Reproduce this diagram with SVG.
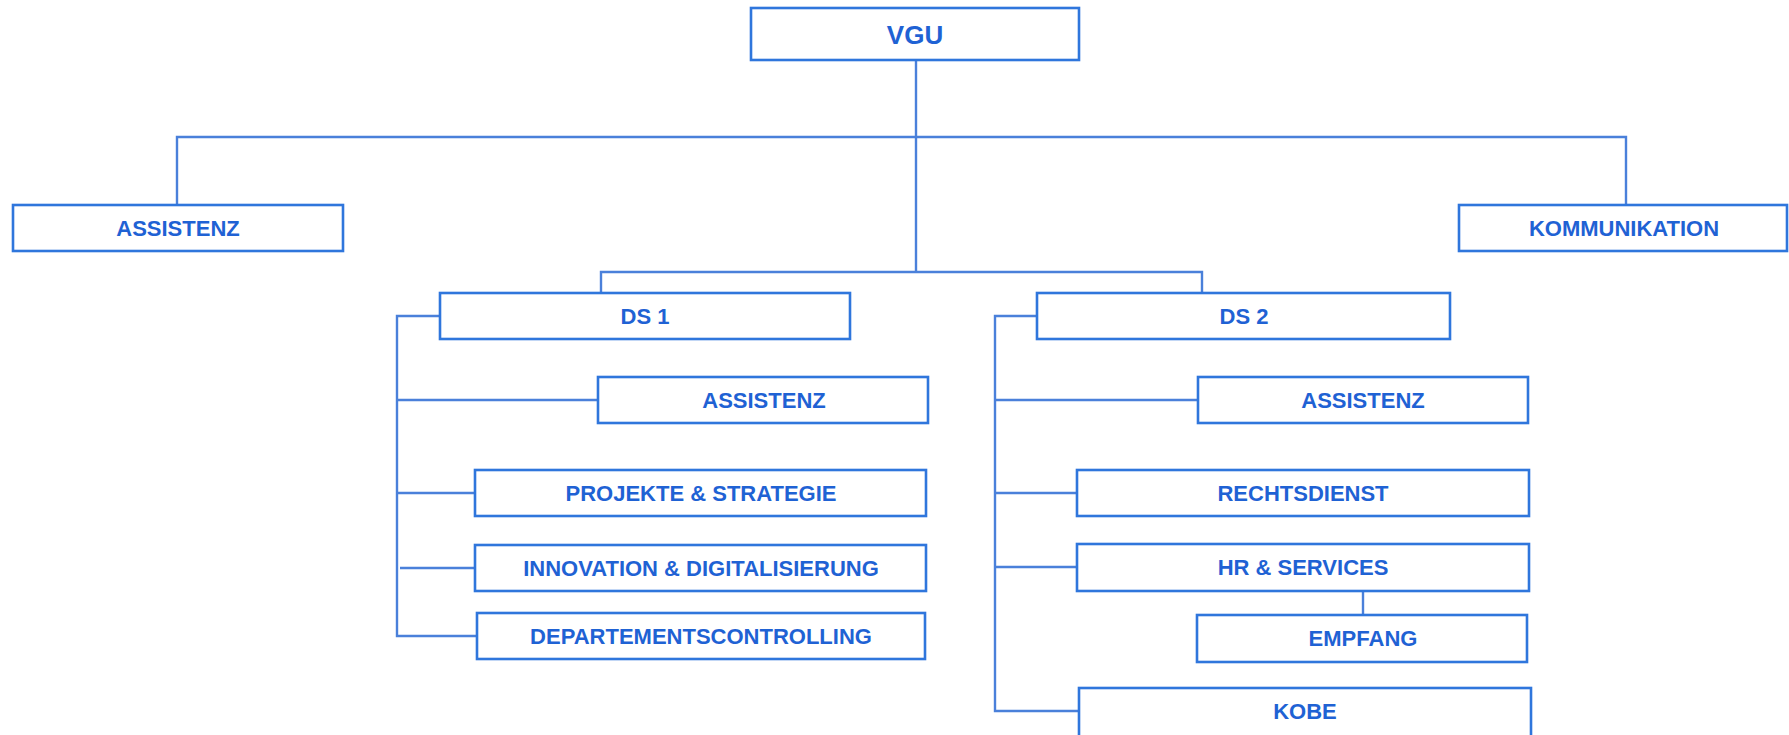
<svg xmlns="http://www.w3.org/2000/svg" width="1789" height="735" viewBox="0 0 1789 735">
<style>
.box{fill:#ffffff;stroke:#2f76dc;stroke-width:2.6}
.lbl{font-family:"Liberation Sans",Arial,sans-serif;font-weight:bold;font-size:22px;fill:#1f62d4;text-anchor:middle}
.big{font-size:26px}
.con{fill:none;stroke:#4a80da;stroke-width:2.4}
</style>
<rect width="1789" height="735" fill="#ffffff"/>
<g id="connectors">
<path class="con" d="M916 60 V272"/>
<path class="con" d="M177 205 V137 H1626 V205"/>
<path class="con" d="M601 293 V272 H1202 V293"/>
<path class="con" d="M440 316 H397 V636 H477"/>
<path class="con" d="M397 400 H598"/>
<path class="con" d="M397 493 H475"/>
<path class="con" d="M400 568 H475"/>
<path class="con" d="M1037 316 H995 V711 H1079"/>
<path class="con" d="M995 400 H1198"/>
<path class="con" d="M995 493 H1077"/>
<path class="con" d="M995 567 H1077"/>
<path class="con" d="M1363 591 V615"/>
</g>
<g id="vgu"><rect class="box" x="751" y="8" width="328" height="52"/><text class="lbl big" x="915" y="44">VGU</text></g>
<g id="assistenz"><rect class="box" x="13" y="205" width="330" height="46"/><text class="lbl" x="178" y="236">ASSISTENZ</text></g>
<g id="kommunikation"><rect class="box" x="1459" y="205" width="328" height="46"/><text class="lbl" x="1624" y="236">KOMMUNIKATION</text></g>
<g id="ds1"><rect class="box" x="440" y="293" width="410" height="46"/><text class="lbl" x="645" y="324">DS 1</text></g>
<g id="ds1-assistenz"><rect class="box" x="598" y="377" width="330" height="46"/><text class="lbl" x="764" y="408">ASSISTENZ</text></g>
<g id="projekte"><rect class="box" x="475" y="470" width="451" height="46"/><text class="lbl" x="701" y="501">PROJEKTE &amp; STRATEGIE</text></g>
<g id="innovation"><rect class="box" x="475" y="545" width="451" height="46"/><text class="lbl" x="701" y="576">INNOVATION &amp; DIGITALISIERUNG</text></g>
<g id="controlling"><rect class="box" x="477" y="613" width="448" height="46"/><text class="lbl" x="701" y="644">DEPARTEMENTSCONTROLLING</text></g>
<g id="ds2"><rect class="box" x="1037" y="293" width="413" height="46"/><text class="lbl" x="1244" y="324">DS 2</text></g>
<g id="ds2-assistenz"><rect class="box" x="1198" y="377" width="330" height="46"/><text class="lbl" x="1363" y="408">ASSISTENZ</text></g>
<g id="rechtsdienst"><rect class="box" x="1077" y="470" width="452" height="46"/><text class="lbl" x="1303" y="501">RECHTSDIENST</text></g>
<g id="hr"><rect class="box" x="1077" y="544" width="452" height="47"/><text class="lbl" x="1303" y="575">HR &amp; SERVICES</text></g>
<g id="empfang"><rect class="box" x="1197" y="615" width="330" height="47"/><text class="lbl" x="1363" y="646">EMPFANG</text></g>
<g id="kobe"><rect class="box" x="1079" y="688" width="452" height="50"/><text class="lbl" x="1305" y="719">KOBE</text></g>
</svg>
